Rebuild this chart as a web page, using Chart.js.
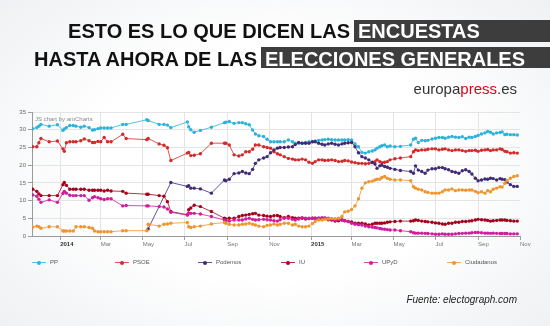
<!DOCTYPE html>
<html><head><meta charset="utf-8">
<script src="https://cdn.jsdelivr.net/npm/chart.js@4.4.0/dist/chart.umd.min.js"></script>
<style>
html,body{margin:0;padding:0;}
body{width:550px;height:326px;overflow:hidden;position:relative;
 background:radial-gradient(ellipse 75% 80% at 50% 50%, #ffffff 45%, #eceef1 100%);
 font-family:"Liberation Sans",Arial,sans-serif;}
#c{position:absolute;left:0;top:0;}
.t{position:absolute;font-weight:bold;font-size:20px;line-height:22px;white-space:nowrap;color:#111;}
.w{color:#fff;}
.box{position:absolute;background:#3d3d3d;}
.lg{position:absolute;top:258px;height:8px;font-size:6px;color:#555;line-height:8px;}
.ln{position:absolute;left:0;top:4px;width:14px;height:1px;}
.dt{position:absolute;left:5px;top:2.5px;width:4px;height:4px;border-radius:50%;}
.lt{position:absolute;left:18px;top:0;white-space:nowrap;}
#credit{position:absolute;left:35px;top:116px;font-size:6px;line-height:7px;color:#8a8a8a;white-space:nowrap;}
#ep{position:absolute;right:33px;top:80px;font-size:15px;line-height:17px;color:#333;white-space:nowrap;}
#ep span{color:#e2001a;}
#src{position:absolute;right:33px;top:294px;font-size:10px;line-height:12px;font-style:italic;color:#222;white-space:nowrap;}
</style></head>
<body>
<canvas id="c" width="550" height="326"></canvas>
<div class="box" style="left:354px;top:20px;width:196px;height:22px;"></div>
<div class="box" style="left:261px;top:47px;width:289px;height:21px;"></div>
<div class="t" style="right:200px;top:20px;">ESTO ES LO QUE DICEN LAS</div>
<div class="t w" style="left:358px;top:20px;">ENCUESTAS</div>
<div class="t" style="right:293px;top:48px;">HASTA AHORA DE LAS</div>
<div class="t w" style="left:265px;top:48px;">ELECCIONES GENERALES</div>
<div id="ep">europa<span>press</span>.es</div>
<div id="credit">JS chart by amCharts</div>
<div id="legend"></div>
<div id="src">Fuente: electograph.com</div>
<script>
const pollDates = [
'2013-11-22','2013-11-28','2013-12-01','2013-12-04','2013-12-16','2013-12-28',
'2014-01-05','2014-01-07','2014-01-10','2014-01-15','2014-01-20','2014-01-24','2014-01-31',
'2014-02-05','2014-02-12','2014-02-17','2014-02-20','2014-02-25',
'2014-03-01','2014-03-06','2014-03-11','2014-03-16','2014-04-02','2014-04-07',
'2014-05-07','2014-05-09','2014-05-25','2014-06-01','2014-06-06','2014-06-11',
'2014-07-05','2014-07-07','2014-07-10','2014-07-15','2014-07-24','2014-08-09',
'2014-08-28','2014-08-30','2014-09-04','2014-09-11','2014-09-18','2014-09-23','2014-09-28',
'2014-10-03','2014-10-08','2014-10-12','2014-10-17','2014-10-24','2014-10-29',
'2014-11-03','2014-11-08','2014-11-13','2014-11-17','2014-11-23','2014-11-29',
'2014-12-05','2014-12-09','2014-12-14','2014-12-19','2014-12-24','2014-12-29',
'2015-01-03','2015-01-07','2015-01-12','2015-01-17','2015-01-21','2015-01-26','2015-01-31',
'2015-02-05','2015-02-10','2015-02-15','2015-02-19','2015-02-24',
'2015-03-01','2015-03-06','2015-03-11','2015-03-16','2015-03-21','2015-03-26','2015-03-31',
'2015-04-04','2015-04-07','2015-04-11','2015-04-14','2015-04-18','2015-04-22','2015-04-26',
'2015-05-03','2015-05-11','2015-05-26','2015-05-30',
'2015-06-02','2015-06-06','2015-06-11','2015-06-16','2015-06-20','2015-06-26',
'2015-07-01','2015-07-06','2015-07-11','2015-07-15','2015-07-20','2015-07-25','2015-07-30',
'2015-08-04','2015-08-09','2015-08-14','2015-08-19','2015-08-23','2015-08-28',
'2015-09-01','2015-09-06','2015-09-11','2015-09-15','2015-09-19','2015-09-23','2015-09-28',
'2015-10-03','2015-10-06','2015-10-10','2015-10-13','2015-10-18','2015-10-23','2015-10-28'];

const ppValues = [
30.3,30.6,31.0,31.5,31.0,31.4,
29.8,30.2,30.6,31.2,31.2,31.0,30.7,
31.0,30.6,29.9,30.0,30.3,
30.5,30.5,30.5,30.5,31.5,31.5,
32.8,32.6,31.5,31.5,31.3,30.6,
32.2,30.8,30.0,29.3,29.8,30.7,
32.0,32.1,32.3,31.8,32.0,32.0,31.7,
31.4,29.9,28.8,28.3,28.1,27.3,
26.6,26.6,26.6,26.6,26.6,27.1,
26.6,26.2,26.2,26.2,26.4,26.6,
26.6,26.8,27.0,27.1,27.2,27.3,27.2,
27.1,27.1,27.1,27.1,27.2,
27.1,26.0,25.2,23.6,23.4,23.8,24.0,
24.3,24.8,25.2,25.5,25.7,25.2,25.4,
25.2,25.3,25.7,27.3,
27.6,26.4,27.0,26.9,27.0,27.4,
27.6,27.8,27.8,27.6,27.9,28.1,27.9,
27.8,28.0,27.5,27.9,27.8,28.1,
28.4,28.8,29.1,29.5,29.3,28.8,29.1,
29.2,29.4,28.6,28.7,28.6,28.6,28.5];

const psoeValues = [
25.2,25.2,26.3,27.5,26.6,26.8,
24.6,23.9,26.3,26.6,26.6,26.6,26.9,
27.4,26.9,26.4,26.4,26.7,
26.6,27.8,26.6,26.6,28.7,27.5,
27.2,27.5,26.0,25.6,24.9,21.3,
23.4,23.6,22.7,22.8,23.2,26.2,
26.2,26.2,25.7,22.9,22.6,22.9,23.8,
23.8,24.5,25.7,25.7,25.2,25.0,
24.8,23.8,23.2,22.9,22.4,21.9,
21.7,21.5,21.5,21.7,21.5,20.8,
20.5,21.0,21.5,21.5,21.3,21.4,21.5,
21.3,21.0,21.1,21.3,21.2,
20.9,20.7,20.5,20.5,20.4,20.5,20.7,
21.0,21.5,21.0,20.7,20.8,21.0,21.5,
21.8,22.0,22.4,23.8,
24.3,24.1,24.3,24.3,24.5,24.6,
24.6,24.3,24.5,24.6,24.3,24.1,24.3,
24.3,24.1,23.9,24.1,24.1,24.2,
23.9,24.2,24.3,24.4,24.1,24.3,24.3,
24.6,24.4,23.9,23.8,23.4,23.5,23.4];

const podemosValues = [
null,null,null,null,null,null,
null,null,null,null,null,null,null,
null,null,null,null,null,
null,null,null,null,null,null,
null,2.0,null,null,null,15.1,
14.0,14.2,13.5,13.5,13.3,12.1,
15.8,15.6,16.0,17.6,17.8,18.2,17.8,
17.6,18.8,20.5,21.5,22.0,22.4,
23.5,24.3,24.8,25.0,25.0,25.1,
25.2,25.8,26.4,26.2,26.2,26.2,
26.6,26.6,26.2,25.9,25.7,26.0,26.2,
25.9,25.7,26.0,26.2,26.3,
26.4,25.2,23.5,22.4,22.0,21.5,20.8,
20.3,19.1,19.8,20.0,19.6,19.4,19.1,
18.8,18.5,18.2,17.7,
19.8,18.6,18.2,17.7,18.6,19.0,
19.0,19.3,19.3,19.0,18.7,18.2,18.0,
17.7,18.4,18.7,18.2,17.5,16.3,
15.6,15.8,16.1,16.0,16.3,16.2,15.8,
16.2,16.0,15.9,15.2,14.5,14.0,14.0];

const iuValues = [
13.2,12.6,11.9,11.4,11.4,11.4,
14.5,15.1,14.3,13.2,13.2,13.2,13.2,
13.2,12.9,12.9,12.9,12.9,
12.9,12.7,12.9,12.7,12.6,12.1,
11.8,11.8,11.4,11.2,9.7,6.9,
6.0,7.4,7.9,8.7,8.3,6.9,
5.0,4.8,5.0,5.0,5.5,5.8,5.9,
6.1,6.3,6.4,5.9,5.8,5.6,
5.5,5.7,5.8,5.5,5.2,5.5,
5.2,5.0,5.0,5.0,4.8,4.9,
5.0,5.0,4.7,4.9,5.0,4.6,4.5,
4.2,4.3,4.5,4.3,4.1,
4.0,3.6,3.6,3.6,3.4,3.1,3.3,
3.6,3.6,3.6,3.6,3.7,3.9,4.0,
4.1,4.2,4.2,4.3,
4.5,4.4,4.2,4.1,4.0,3.9,
3.7,3.6,3.4,3.3,3.6,3.6,3.9,
3.9,4.1,4.1,4.2,4.3,4.5,
4.7,4.6,4.5,4.4,4.2,4.3,4.4,
4.5,4.5,4.5,4.4,4.3,4.2,4.2];

const upydValues = [
11.6,11.2,10.4,9.5,10.2,9.5,
12.0,12.6,12.1,11.5,11.4,11.4,11.4,
11.4,10.1,10.8,11.1,10.8,
10.5,10.3,10.5,10.5,8.5,8.6,
8.5,8.5,8.3,8.2,7.6,6.7,
5.9,6.4,6.4,6.4,6.2,5.5,
4.5,4.3,4.2,4.5,4.5,4.5,4.8,
5.0,4.7,4.5,4.6,4.7,4.6,
4.5,4.3,4.2,4.6,5.0,5.0,
4.7,4.5,4.8,5.2,5.0,5.0,
5.0,5.0,5.1,5.2,5.1,5.0,4.8,
4.5,4.6,4.5,4.3,4.1,
3.6,3.3,3.2,3.1,2.8,2.6,2.5,
2.4,2.3,2.1,2.0,1.9,1.8,1.7,
1.7,1.5,1.2,0.9,
0.8,0.8,0.8,0.75,0.7,0.6,
0.5,0.5,0.6,0.5,0.5,0.5,0.6,
0.7,0.75,0.8,0.8,0.9,1.0,
1.0,0.9,0.8,0.8,0.75,0.8,0.75,
0.7,0.7,0.7,0.7,0.6,0.6,0.6];

const ciudadanosValues = [
2.5,2.8,2.6,2.2,2.6,2.6,
1.4,1.4,1.4,1.4,1.4,2.6,2.6,
2.6,2.4,2.2,1.4,1.2,
1.2,1.2,1.2,1.2,1.5,1.5,
1.5,3.3,2.8,3.3,3.4,3.6,
3.8,2.6,2.4,2.6,2.8,3.4,
3.8,3.6,3.3,3.1,3.1,3.3,3.4,
3.6,3.3,3.1,2.8,2.6,3.0,
3.1,3.4,3.1,3.3,3.6,3.6,
3.1,3.3,2.8,2.6,2.6,2.8,
3.5,4.1,4.5,4.5,4.7,4.8,4.9,
4.9,5.0,5.5,6.8,7.0,
7.5,8.5,10.5,13.5,15.0,15.3,15.5,
15.8,16.0,16.0,16.5,16.8,16.3,16.0,
15.8,15.8,15.6,13.9,
13.5,13.2,13.0,12.5,12.3,12.1,
12.1,12.1,12.5,13.0,13.0,13.3,12.8,
13.0,13.0,12.9,13.0,13.0,12.6,
12.2,12.5,12.1,12.8,12.5,13.2,13.5,
13.9,13.8,14.9,15.6,16.3,16.8,17.0];

const seriesNames = ['PP','PSOE','Podemos','IU','UPyD','Ciudadanos'];
const seriesValues = [ppValues, psoeValues, podemosValues, iuValues, upydValues, ciudadanosValues];
const seriesColors = ['#2bb3da','#d52a2a','#3f2a75','#a5001c','#d21c9d','#f0952d'];

const tickDates = ['2014-01-01','2014-03-01','2014-05-01','2014-07-01','2014-09-01','2014-11-01',
                   '2015-01-01','2015-03-01','2015-05-01','2015-07-01','2015-09-01','2015-11-01'];
const tickLabels = ['2014','Mar','May','Jul','Sep','Nov','2015','Mar','May','Jul','Sep','Nov'];
const axisStart = '2013-11-21';
const axisEnd = '2015-11-01';
const yMin = 0, yMax = 35, yStep = 5;

const DAY = 86400000, ORIGIN = Date.UTC(2014,0,1);
function dayNum(s){ const p = s.split('-').map(Number); return Math.round((Date.UTC(p[0],p[1]-1,p[2]) - ORIGIN)/DAY); }
function rgba(hex,a){ const n=parseInt(hex.slice(1),16); return `rgba(${n>>16},${(n>>8)&255},${n&255},${a})`; }

Chart.defaults.font.family = '"Liberation Sans", Arial, sans-serif';

const datasets = seriesNames.map((name,i)=>({
  label: name,
  data: pollDates.map((d,j)=>({x: dayNum(d), y: seriesValues[i][j]})).filter(p=>p.y!==null),
  borderColor: rgba(seriesColors[i],0.8),
  backgroundColor: seriesColors[i],
  pointBackgroundColor: seriesColors[i],
  pointBorderWidth: 0,
  pointRadius: 1.7,
  pointHoverRadius: 1.7,
  borderWidth: 1,
  tension: 0,
  fill: false,
  order: 6 - i
}));

const lastTick = tickDates.length - 1;
new Chart(document.getElementById('c'), {
  type: 'line',
  data: { datasets },
  options: {
    responsive: false, animation: false, events: [],
    layout: { padding: { left: 0, top: 112, right: 30, bottom: 70 } },
    plugins: { legend: { display: false }, tooltip: { enabled: false }, title: { display: false } },
    scales: {
      x: {
        type: 'linear', min: dayNum(axisStart), max: dayNum(axisEnd),
        afterBuildTicks: s => { s.ticks = tickDates.map(t => ({ value: dayNum(t) })); },
        afterFit: s => { s.height = 20; },
        ticks: {
          autoSkip: false, maxRotation: 0, minRotation: 0, align: 'start', padding: 1,
          callback: (v, i) => tickLabels[i],
          font: ctx => ({ size: 6, weight: /^\d{4}$/.test(tickLabels[ctx.index] || '') ? 'bold' : 'normal' }),
          color: ctx => /^\d{4}$/.test(tickLabels[ctx.index] || '') ? '#333' : '#777'
        },
        grid: {
          color: ctx => ctx.index === lastTick ? 'rgba(0,0,0,0)' : '#e2e4e6',
          tickColor: '#a0a0a0', tickLength: 4, lineWidth: 1
        },
        border: { color: '#9a9a9a', width: 1 }
      },
      y: {
        min: yMin, max: yMax,
        afterFit: s => { s.width = 32; },
        ticks: { stepSize: yStep, padding: 2, font: { size: 6 }, color: '#666' },
        grid: { color: '#e2e4e6', tickColor: '#a0a0a0', tickLength: 4, lineWidth: 1 },
        border: { color: '#9a9a9a', width: 1 }
      }
    }
  }
});

const lg = document.getElementById('legend');
seriesNames.forEach((name,i)=>{
  const d = document.createElement('div');
  d.className = 'lg';
  d.style.left = (32 + i*83) + 'px';
  d.innerHTML = `<span class="ln" style="background:${rgba(seriesColors[i],0.8)}"></span><span class="dt" style="background:${seriesColors[i]}"></span><span class="lt">${name}</span>`;
  lg.appendChild(d);
});
</script>
</body></html>
